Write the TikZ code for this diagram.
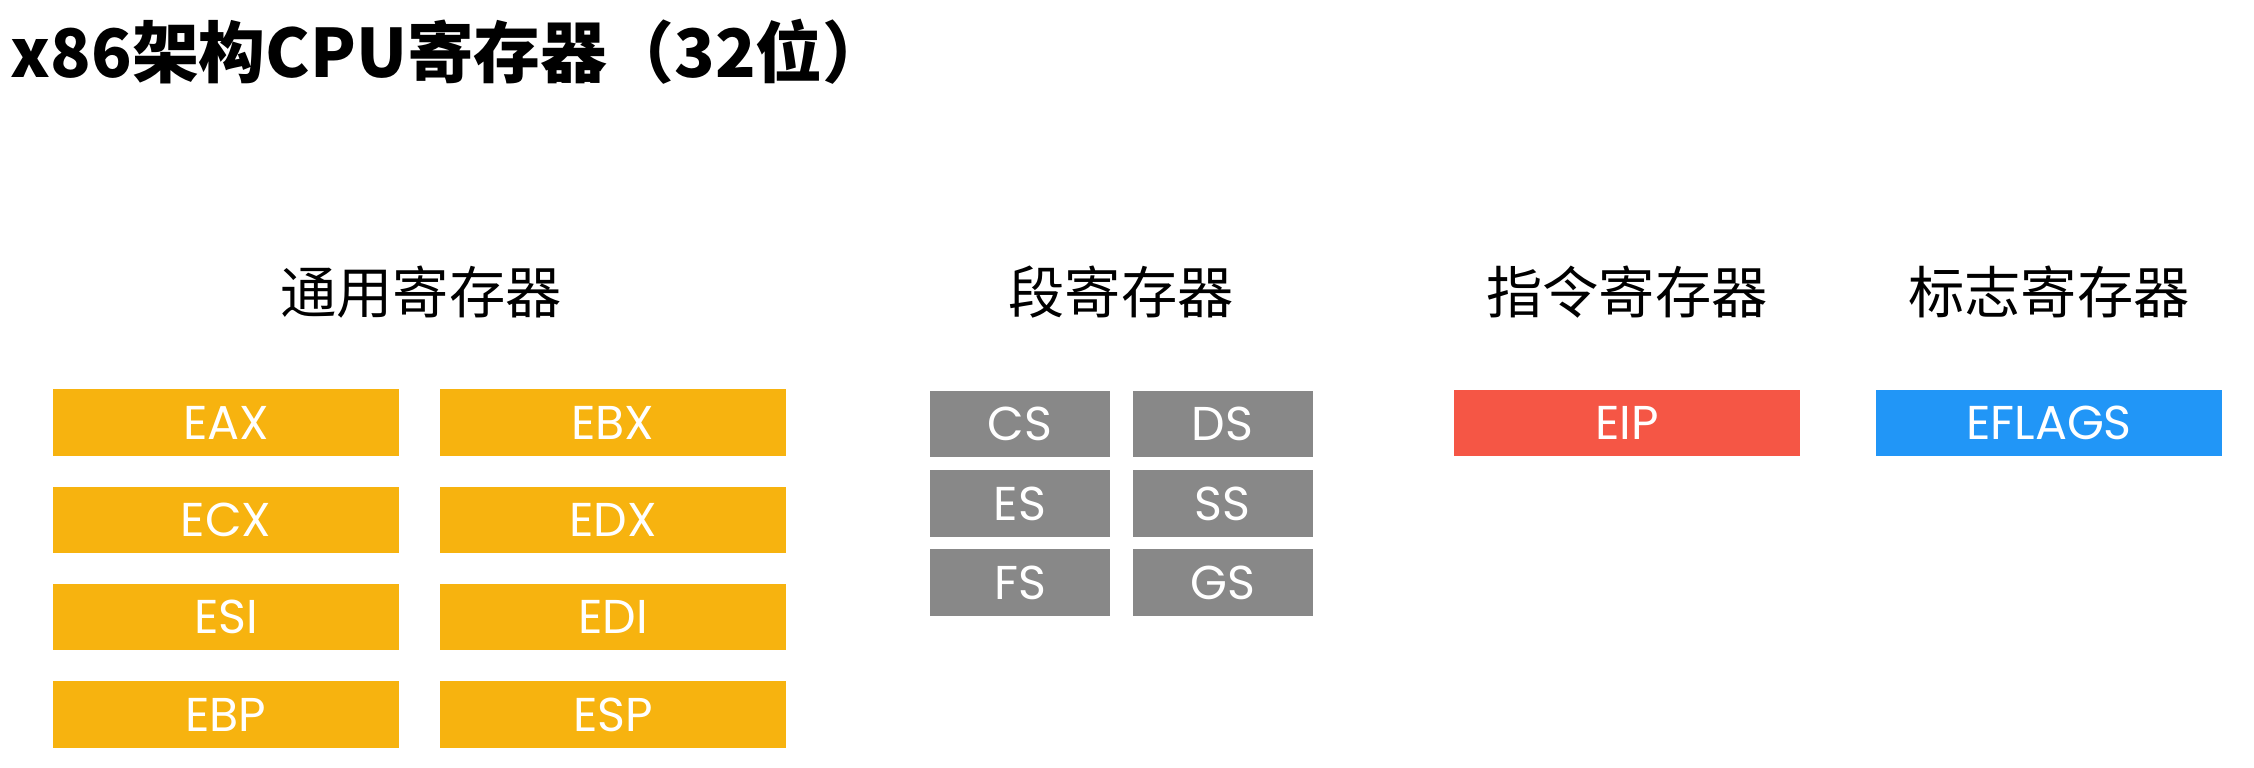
\documentclass[tikz,border=0pt]{standalone}
\usepackage{fontspec}
\setmainfont{Poppins}
\newfontfamily\cjk{Noto Sans CJK SC}
\definecolor{regorange}{HTML}{F7B30F}
\definecolor{reggray}{HTML}{888888}
\definecolor{regred}{HTML}{F55645}
\definecolor{regblue}{HTML}{2196F7}
\tikzset{
  regbox/.style={minimum height=0.66cm, inner sep=0pt, text=white,
    font=\fontsize{13.5}{14}\selectfont},
  widebox/.style={regbox, minimum width=3.45cm},
  narrowbox/.style={regbox, minimum width=1.8cm},
  header/.style={font=\cjk\fontsize{16}{18}\selectfont, text=black, inner sep=0pt},
}
\begin{document}
\begin{tikzpicture}[x=0.01cm,y=-0.01cm]
\useasboundingbox (0,0) rectangle (2254,768);
\node[anchor=west, inner sep=0pt, font=\cjk\bfseries\fontsize{19}{22}\selectfont] (title) at (10,52) {x86架构CPU寄存器（32位）};

\node[header] (hgen) at (421,292) {通用寄存器};
\node[header] (hseg) at (1121,292) {段寄存器};
\node[header] (hip) at (1627,292) {指令寄存器};
\node[header] (hfl) at (2049,292) {标志寄存器};

\node[widebox, fill=regorange] (eax) at (226,422.5) {EAX};
\node[widebox, fill=regorange] (ebx) at (613,422.5) {EBX};
\node[widebox, fill=regorange] (ecx) at (226,520) {ECX};
\node[widebox, fill=regorange] (edx) at (613,520) {EDX};
\node[widebox, fill=regorange] (esi) at (226,617) {ESI};
\node[widebox, fill=regorange] (edi) at (613,617) {EDI};
\node[widebox, fill=regorange] (ebp) at (226,714.5) {EBP};
\node[widebox, fill=regorange] (esp) at (613,714.5) {ESP};

\node[narrowbox, fill=reggray] (cs) at (1020,424) {CS};
\node[narrowbox, fill=reggray] (ds) at (1222.7,424) {DS};
\node[narrowbox, fill=reggray] (es) at (1020,503.5) {ES};
\node[narrowbox, fill=reggray] (ss) at (1222.7,503.5) {SS};
\node[narrowbox, fill=reggray] (fs) at (1020,582.5) {FS};
\node[narrowbox, fill=reggray] (gs) at (1222.7,582.5) {GS};

\node[widebox, fill=regred] (eip) at (1627,423) {EIP};
\node[widebox, fill=regblue] (eflags) at (2049,423) {EFLAGS};
\end{tikzpicture}
\end{document}
